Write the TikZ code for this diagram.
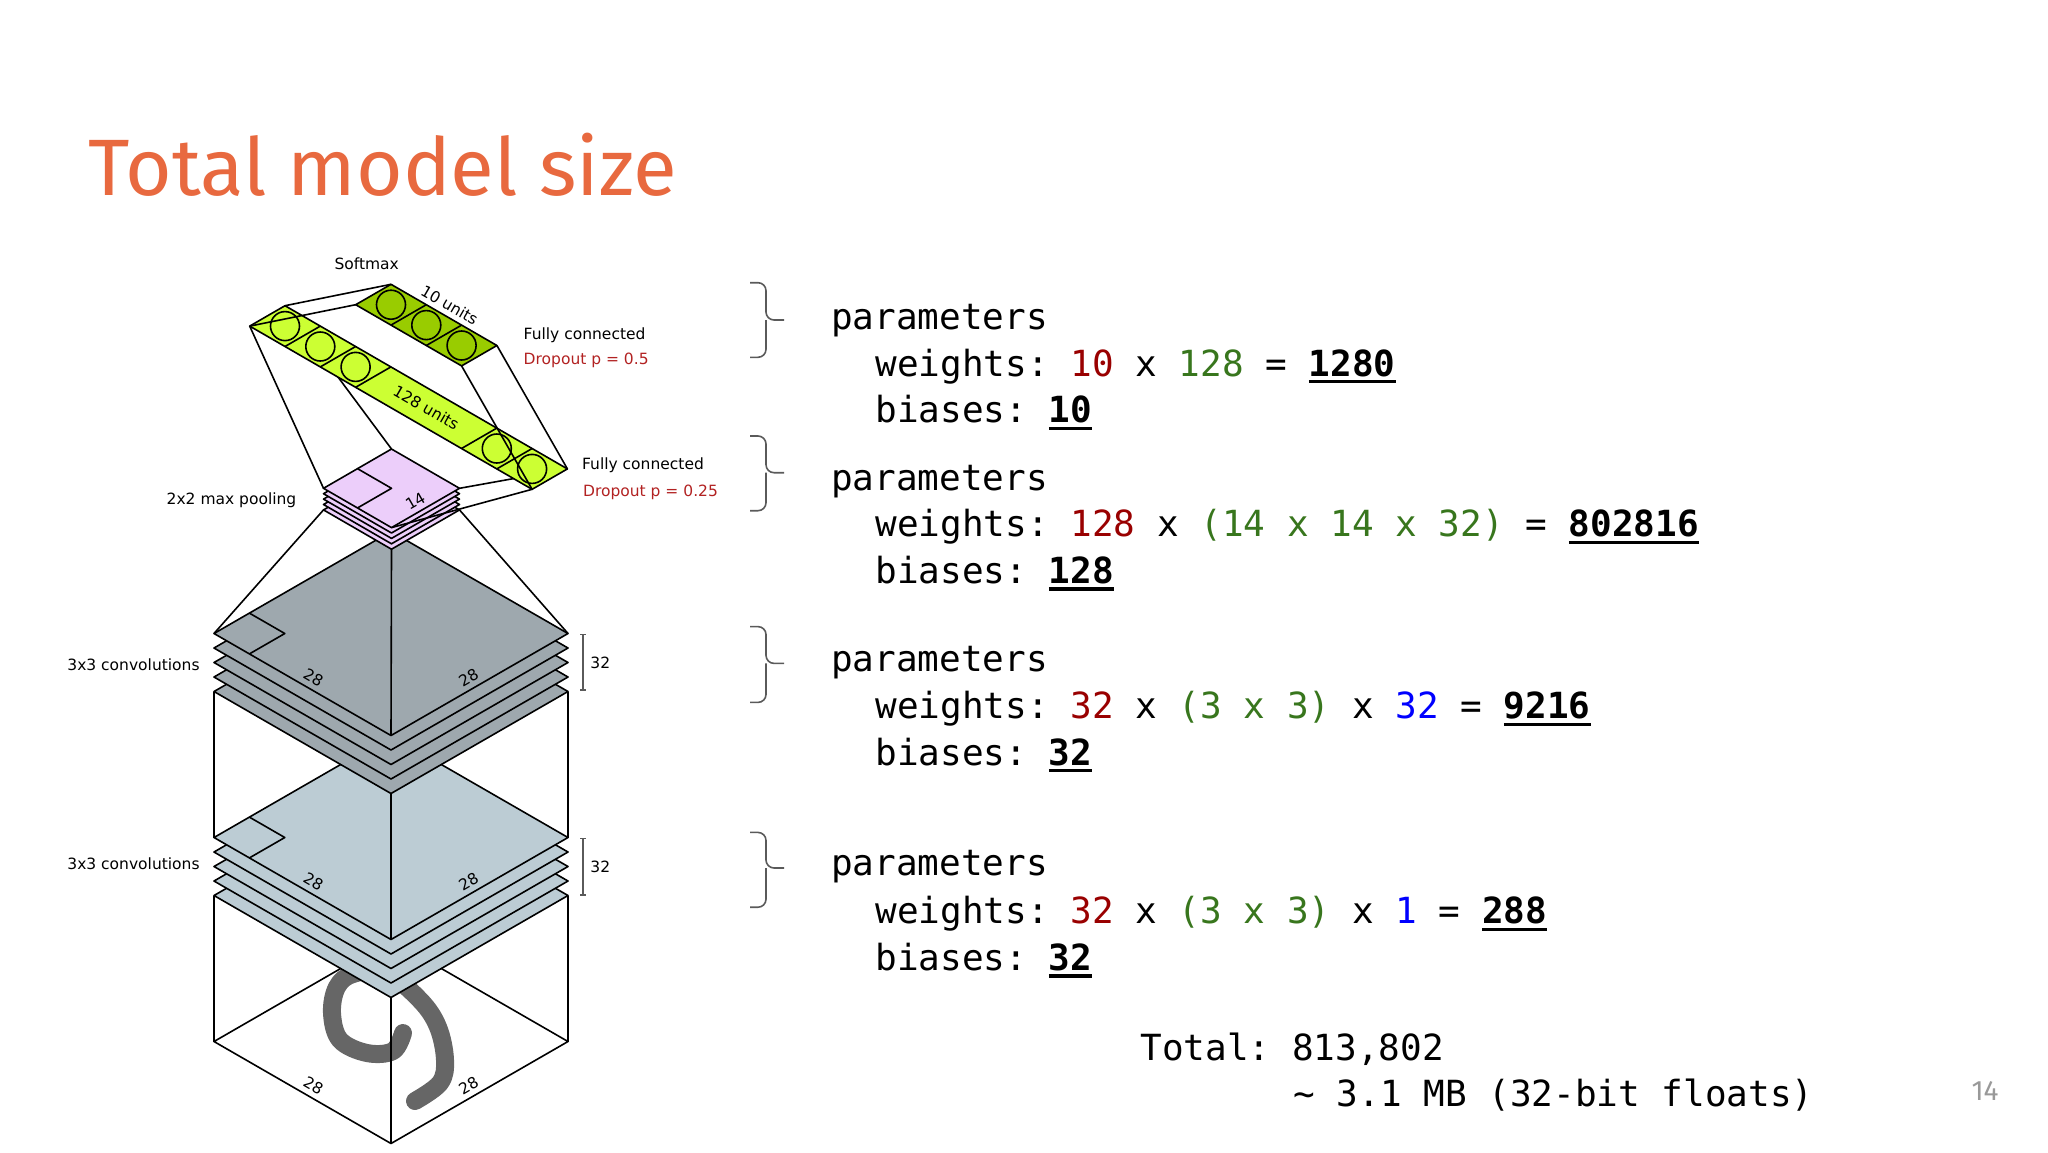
\documentclass[tikz,border=0pt]{standalone}
\usepackage{fontspec}
\setmainfont{DejaVu Sans}
\newfontfamily\codefont{DejaVu Sans Mono}
\newfontfamily\titlefont{Fira Sans}
\usepackage{tikz}
\usetikzlibrary{positioning}
\frenchspacing

\definecolor{titleorange}{RGB}{232,105,63}
\definecolor{convdark}{RGB}{158,168,174}
\definecolor{convlight}{RGB}{188,204,212}
\definecolor{poolpink}{RGB}{236,206,250}
\definecolor{densegreen}{RGB}{204,255,51}
\definecolor{softgreen}{RGB}{153,204,0}
\definecolor{dropred}{RGB}{178,34,34}
\definecolor{numred}{RGB}{153,0,0}
\definecolor{numgreen}{RGB}{56,118,29}
\definecolor{numblue}{RGB}{0,0,255}
\definecolor{digitgray}{RGB}{102,102,102}
\definecolor{bracegray}{RGB}{90,90,90}

\tikzstyle{wire} = [line width=0.8pt, black, line join=round]
\tikzstyle{lbl} = [font=\fontsize{7.75}{9}\selectfont, inner sep=0pt]
\tikzstyle{dimlbl} = [font=\fontsize{7.75}{9}\selectfont, inner sep=2.5pt, sloped, above]
\tikzstyle{code} = [font=\codefont\fontsize{18}{22}\selectfont, anchor=base west, inner sep=0pt]
\tikzstyle{brace} = [line width=0.8pt, bracegray, rounded corners=4pt]
\tikzstyle{gauge} = [line width=0.7pt, bracegray]

% fat underline for the results
\newcommand{\ulnum}[1]{\setbox0\hbox{\bfseries #1}\rlap{\rule[-0.2em]{\wd0}{0.09em}}\box0}

\begin{document}
\begin{tikzpicture}[x=0.5pt, y=-0.5pt]
		\useasboundingbox (0,0) rectangle (2048,1152);
		
		% title
		\node[anchor=base west, inner sep=0, text=titleorange, font=\titlefont\fontsize{40}{48}\selectfont] (title) at (88,195) {Total model size};
		
		% input plane with the digit
		\coordinate (inL) at (214,1041.5);
		\coordinate (inF) at (391,1143.5);
		\coordinate (inR) at (568,1041.5);
		\coordinate (inB) at (391,939.5);
		\draw[wire] (inB) -- (inL) -- (inF) -- (inR) -- cycle;
		\draw[line width=9pt, digitgray, line cap=round, line join=round] plot[smooth, tension=0.6] coordinates {(403,1033) (393,1051) (367,1053) (340,1040) (332,1013) (337,987) (353,974) (385,972) (420,1000) (438,1027) (445,1060) (440,1083) (415,1101)};
		\path[lbl] (inL) -- (inF) node[dimlbl, pos=0.53] {28};
		\path[lbl] (inF) -- (inR) node[dimlbl, pos=0.47] {28};
		
		% first conv stack (light)
		\coordinate (lbL) at (214,895.5);
		\coordinate (lbF) at (391,997.5);
		\coordinate (lbR) at (568,895.5);
		\draw[wire] (inL) -- (lbL) (inF) -- (lbF) (inR) -- (lbR);
		\foreach \k in {4,3,2,1,0}
			\draw[wire, fill=convlight] (214,{837.5+14.5*\k}) -- ++(177,-102) -- ++(177,102) -- ++(-177,102) -- cycle;
		\coordinate (ltL) at (214,837.5);
		\coordinate (ltF) at (391,939.5);
		\coordinate (ltR) at (568,837.5);
		\draw[wire] (249.4,817.1) -- (284.8,837.5) -- (249.4,857.9);
		\path (ltL) -- (ltF) node[dimlbl, pos=0.53] {28};
		\path (ltF) -- (ltR) node[dimlbl, pos=0.47] {28};
		
		% second conv stack (dark)
		\coordinate (dbL) at (214,691.5);
		\coordinate (dbF) at (391,793.5);
		\coordinate (dbR) at (568,691.5);
		\draw[wire] (ltL) -- (dbL) (ltF) -- (dbF) (ltR) -- (dbR);
		\foreach \k in {4,3,2,1,0}
			\draw[wire, fill=convdark] (214,{633.5+14.5*\k}) -- ++(177,-102) -- ++(177,102) -- ++(-177,102) -- cycle;
		\coordinate (dtL) at (214,633.5);
		\coordinate (dtF) at (391,735.5);
		\coordinate (dtR) at (568,633.5);
		\draw[wire] (249.4,613.1) -- (284.8,633.5) -- (249.4,653.9);
		\path (dtL) -- (dtF) node[dimlbl, pos=0.53] {28};
		\path (dtF) -- (dtR) node[dimlbl, pos=0.47] {28};
		
		% pooling stack
		\coordinate (pbL) at (323.5,509.9);
		\coordinate (pbF) at (391.5,549.2);
		\coordinate (pbR) at (459.5,509.9);
		\draw[wire] (dtL) -- (pbL) (dtF) -- (pbF) (dtR) -- (pbR);
		\foreach \k in {4,3,2,1,0}
			\draw[wire, fill=poolpink] (323.5,{488.3+5.4*\k}) -- ++(68,-39.3) -- ++(68,39.3) -- ++(-68,39.3) -- cycle;
		\coordinate (ptL) at (323.5,488.3);
		\coordinate (ptT) at (391.5,449);
		\coordinate (ptF) at (391.5,527.6);
		\coordinate (ptR) at (459.5,488.3);
		\draw[wire] (357.5,468.65) -- (391.5,488.3) -- (357.5,507.95);
		\path (ptF) -- (ptR) node[dimlbl, pos=0.43] {14};
		
		% 128 units
		\coordinate (hT) at (285,305.7);
		\coordinate (hL) at (249.7,326.1);
		\coordinate (hR) at (567.4,468.9);
		\coordinate (hB) at (532.1,489.3);
		\draw[wire] (ptT) -- (hT) (ptL) -- (hL) (ptR) -- (hR) (ptF) -- (hB);
		\draw[wire, fill=densegreen] (hT) -- (hR) -- (hB) -- (hL) -- cycle;
		\foreach \k in {1,2,3,6,7}
			\draw[wire] ({285+35.3*\k},{305.7+20.4*\k}) -- ++(-35.3,20.4);
		\foreach \k in {0,1,2,6,7}
			\draw[wire] ({267.35+35.3*(\k+0.5)},{315.9+20.4*(\k+0.5)}) circle[radius=14.5];
		\node[lbl, rotate=-30] (units128) at (426.2,407.7) {128 units};
		
		% softmax
		\coordinate (sT) at (391,284.3);
		\coordinate (sL) at (355.7,304.7);
		\coordinate (sR) at (496.9,345.5);
		\coordinate (sB) at (461.6,365.9);
		\draw[wire, fill=softgreen] (sT) -- (sR) -- (sB) -- (sL) -- cycle;
		\foreach \k in {1,2}
			\draw[wire] ({391+35.3*\k},{284.3+20.4*\k}) -- ++(-35.3,20.4);
		\foreach \k in {0,1,2}
			\draw[wire] ({373.35+35.3*(\k+0.5)},{294.5+20.4*(\k+0.5)}) circle[radius=14.5];
		\draw[wire] (hT) -- (sT) (hL) -- (sL) (hR) -- (sR) (hB) -- (sB);
		\path (sT) -- (sR) node[dimlbl, pos=0.5] {10 units};
		
		% layer names
		\node[lbl, anchor=base] (softmax) at (366.7,269.3) {Softmax};
		\node[lbl, anchor=base west] (fc1) at (523.3,339.3) {Fully connected};
		\node[lbl, anchor=base west, text=dropred] (drop1) at (523.3,364) {Dropout p = 0.5};
		\node[lbl, anchor=base west] (fc2) at (581.7,469.3) {Fully connected};
		\node[lbl, anchor=base west, text=dropred] (drop2) at (582.7,496) {Dropout p = 0.25};
		\node[lbl, anchor=base east] (pool) at (296.7,504) {2x2 max pooling};
		\node[lbl, anchor=base east] (conv2) at (200,670) {3x3 convolutions};
		\node[lbl, anchor=base east] (conv1) at (200,869.3) {3x3 convolutions};
		
		% depth marks
		\draw[gauge] (580,634.3) -- (586,634.3) (583,634.3) -- (583,690) (580,690) -- (586,690);
		\draw[gauge] (580,838.3) -- (586,838.3) (583,838.3) -- (583,895) (580,895) -- (586,895);
		\node[lbl, anchor=base west] (depth2) at (590,668.3) {32};
		\node[lbl, anchor=base west] (depth1) at (590,872.7) {32};
		
		% braces
		\foreach \t/\m/\b in {282.7/320/357.3, 436/472.7/510.7, 626.6/663.4/702.4, 832.4/868/907.2}{
			\draw[brace] (750,\t) -| (766,\m) -- (784,\m);
			\draw[brace] (750,\b) -| (766,\m);
		}
		
		% parameter counts
		\node[code] (par1) at (830.6,329.3) {parameters};
		\node[code] (wt1) at (875,376) {weights: \textcolor{numred}{10} x \textcolor{numgreen}{128} = \ulnum{1280}};
		\node[code] (bi1) at (875,422.7) {biases: \ulnum{10}};
		\node[code] (par2) at (830.6,490) {parameters};
		\node[code] (wt2) at (875,536.7) {weights: \textcolor{numred}{128} x \textcolor{numgreen}{(14 x 14 x 32)} = \ulnum{802816}};
		\node[code] (bi2) at (875,583.3) {biases: \ulnum{128}};
		\node[code] (par3) at (830.6,671.4) {parameters};
		\node[code] (wt3) at (875,718.6) {weights: \textcolor{numred}{32} x \textcolor{numgreen}{(3 x 3)} x \textcolor{numblue}{32} = \ulnum{9216}};
		\node[code] (bi3) at (875,765.2) {biases: \ulnum{32}};
		\node[code] (par4) at (830.6,875.5) {parameters};
		\node[code] (wt4) at (875,923.8) {weights: \textcolor{numred}{32} x \textcolor{numgreen}{(3 x 3)} x \textcolor{numblue}{1} = \ulnum{288}};
		\node[code] (bi4) at (875,970.3) {biases: \ulnum{32}};
		\node[code] (total) at (1140,1060) {Total: 813,802};
		\node[code] (size) at (1293,1106.6) {\textasciitilde{} 3.1 MB (32-bit floats)};
		
		% page number
		\node[anchor=base, inner sep=0, text=gray!80, font=\titlefont\fontsize{14}{16}\selectfont] (page) at (1985,1100) {14};
		\end{tikzpicture}
\end{document}
